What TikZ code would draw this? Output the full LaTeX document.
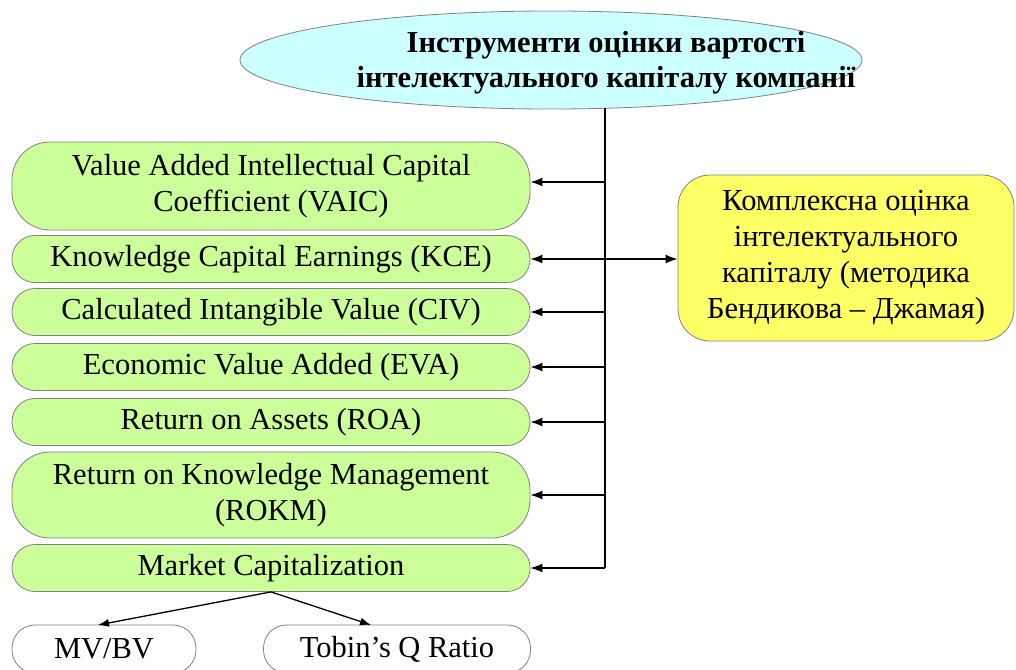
\documentclass[tikz,border=0pt]{standalone}
\usepackage{fontspec}
\setmainfont{Liberation Serif}
\usetikzlibrary{shapes.geometric,arrows.meta}
\definecolor{cyanfill}{HTML}{CCFFFF}
\definecolor{greenfill}{HTML}{CCFF99}
\definecolor{yellowfill}{HTML}{FFFF66}
\definecolor{edgegray}{HTML}{808080}
\tikzset{
  txt/.style={font=\fontsize{30.5}{36}\selectfont, align=center, inner sep=0pt},
  greenbox/.style={txt, draw=edgegray, line width=0.8pt, fill=greenfill, minimum width=518pt, rounded corners=23pt},
  shortbox/.style={greenbox, minimum height=47pt},
  tallbox/.style={greenbox, minimum height=88pt, rounded corners=38pt},
  whitebox/.style={txt, draw=edgegray, line width=0.8pt, fill=white, rounded corners=23pt, minimum height=48pt},
  arr/.style={line width=1.5pt, -{Latex[length=12pt,width=9pt]}},
  darr/.style={line width=1.5pt, {Latex[length=12pt,width=9pt]}-{Latex[length=12pt,width=9pt]}},
  thinarr/.style={line width=1.3pt, -{Latex[length=11pt,width=8pt]}},
}
\begin{document}
\begin{tikzpicture}[x=1pt,y=-1pt]
\useasboundingbox (0,0) rectangle (1016,669);
\node[ellipse, draw=edgegray, line width=0.8pt, fill=cyanfill, minimum width=622pt, minimum height=98pt, inner sep=0pt] (root) at (551,60) {};
\node[align=center, inner sep=0pt, font=\fontsize{30.5}{35}\selectfont\bfseries] (roottext) at (606,63) {Інструменти оцінки вартості\\інтелектуального капіталу компанії};

\node[tallbox] (vaic) at (271,186) {Value Added Intellectual Capital\\Coefficient (VAIC)};
\node[shortbox] (kce) at (271,259) {Knowledge Capital Earnings (KCE)};
\node[shortbox] (civ) at (271,312) {Calculated Intangible Value (CIV)};
\node[shortbox] (eva) at (271,367) {Economic Value Added (EVA)};
\node[shortbox] (roa) at (271,422) {Return on Assets (ROA)};
\node[tallbox, minimum height=86pt] (rokm) at (271,495) {Return on Knowledge Management\\(ROKM)};
\node[shortbox] (mc) at (271,568) {Market Capitalization};

\node[txt, draw=edgegray, line width=0.8pt, fill=yellowfill, minimum width=336pt, minimum height=166pt, rounded corners=32pt] (bend) at (846,258) {Комплексна оцінка\\інтелектуального\\капіталу (методика\\Бендикова – Джамая)};

\node[whitebox, minimum width=184pt] (mvbv) at (104,649) {MV/BV};
\node[whitebox, minimum width=267pt] (tobin) at (397,649) {Tobin’s Q Ratio};

\coordinate (t0) at (605,108);
\coordinate (t1) at (605,568);
\draw[line width=2.5pt] (t0) -- (t1);

\coordinate (a1) at (605,182);
\draw[arr] (a1) -- (a1 -| vaic.east);
\draw[darr] (kce.east) -- (kce.east -| bend.west);
\draw[arr] (t0 |- civ.east) -- (civ.east);
\draw[arr] (t0 |- eva.east) -- (eva.east);
\draw[arr] (t0 |- roa.east) -- (roa.east);
\draw[arr] (t0 |- rokm.east) -- (rokm.east);
\draw[arr] (t1) -- (mc.east);

\coordinate (m1) at (98,625);
\coordinate (m2) at (371,625);
\draw[thinarr] (mc.south) -- (m1);
\draw[thinarr] (mc.south) -- (m2);
\end{tikzpicture}
\end{document}
